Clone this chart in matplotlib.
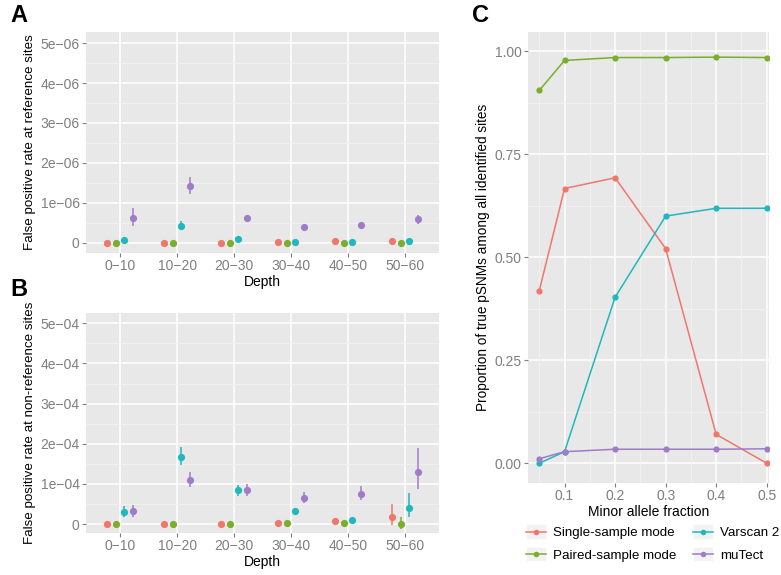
import numpy as np
import matplotlib
matplotlib.use('Agg')
import matplotlib.pyplot as plt
from matplotlib.lines import Line2D
from matplotlib.patches import Rectangle
from matplotlib.legend_handler import HandlerLine2D

plt.rcParams['font.family'] = ['Liberation Sans', 'DejaVu Sans']

# categories / series
depth_labels = ['0\u221210', '10\u221220', '20\u221230', '30\u221240', '40\u221250', '50\u221260']
callers = ['Single-sample mode', 'Paired-sample mode', 'Varscan 2', 'muTect']
colors = ['#F0776C', '#7AAE2B', '#1DB9BC', '#A07CC8']

# A: false positive rate at reference sites (x 1e-6)
ref_val = [[0.0, 0.0, 0.0, 0.02, 0.04, 0.03],
           [0.0, 0.0, 0.0, 0.0, 0.0, 0.0],
           [0.07, 0.42, 0.10, 0.01, 0.01, 0.05],
           [0.61, 1.42, 0.62, 0.40, 0.45, 0.58]]
ref_lo = [[0.0, 0.0, 0.0, 0.02, 0.04, 0.03],
          [0.0, 0.0, 0.0, 0.0, 0.0, 0.0],
          [0.02, 0.31, 0.08, 0.0, 0.0, 0.03],
          [0.42, 1.21, 0.58, 0.37, 0.42, 0.46]]
ref_hi = [[0.0, 0.0, 0.0, 0.02, 0.04, 0.03],
          [0.0, 0.0, 0.0, 0.0, 0.0, 0.0],
          [0.13, 0.54, 0.12, 0.02, 0.02, 0.07],
          [0.86, 1.64, 0.66, 0.43, 0.48, 0.70]]

# B: false positive rate at non-reference sites (x 1e-4)
nonref_val = [[0.0, 0.0, 0.0, 0.03, 0.07, 0.19],
              [0.0, 0.0, 0.01, 0.025, 0.02, 0.0],
              [0.315, 1.68, 0.84, 0.32, 0.10, 0.39],
              [0.33, 1.10, 0.84, 0.66, 0.75, 1.31]]
nonref_lo = [[0.0, 0.0, 0.0, 0.02, 0.05, -0.02],
             [0.0, 0.0, 0.01, 0.02, 0.015, -0.13],
             [0.17, 1.48, 0.70, 0.28, 0.08, 0.17],
             [0.19, 0.92, 0.69, 0.52, 0.59, 0.87]]
nonref_hi = [[0.0, 0.0, 0.0, 0.04, 0.09, 0.50],
             [0.0, 0.0, 0.01, 0.03, 0.025, 0.18],
             [0.46, 1.93, 0.98, 0.36, 0.12, 0.77],
             [0.48, 1.31, 1.00, 0.81, 0.94, 1.90]]

# C: proportion of true pSNMs
maf = [0.05, 0.1, 0.2, 0.3, 0.4, 0.5]
prop = [[0.419, 0.667, 0.693, 0.521, 0.070, 0.0],
        [0.905, 0.978, 0.985, 0.985, 0.986, 0.985],
        [0.0, 0.028, 0.403, 0.600, 0.619, 0.619],
        [0.011, 0.028, 0.034, 0.034, 0.034, 0.035]]

W, H = 781, 575
BG = '#E8E8E8'
TXT = '#7F7F7F'

fig = plt.figure(figsize=(W / 100, H / 100), dpi=100)


def px_axes(left, top, right, bottom):
    return fig.add_axes([left / W, 1 - bottom / H, (right - left) / W, (bottom - top) / H])


def gg_style(ax, size):
    ax.set_facecolor(BG)
    for s in ax.spines.values():
        s.set_visible(False)
    ax.tick_params(colors=TXT, labelcolor=TXT, labelsize=size, length=3, width=0.8, pad=1.5)
    ax.set_axisbelow(True)


def dot_panel(ax, vals, lo, hi, scale, yticks, ylabels, ylim, ylabel):
    gg_style(ax, 10)
    x = np.arange(1, len(depth_labels) + 1)
    offs = [-0.225, -0.075, 0.075, 0.225]
    for v, l, h, c, o in zip(vals, lo, hi, colors, offs):
        ax.vlines(x + o, np.array(l) * scale, np.array(h) * scale, color=c, lw=1.1, zorder=3)
        ax.plot(x + o, np.array(v) * scale, 'o', color=c, ms=5.2, mew=0, zorder=4)
    ax.set_xlim(0.4, 6.6)
    ax.set_ylim(ylim[0] * scale, ylim[1] * scale)
    ax.set_xticks(x)
    ax.set_xticklabels(depth_labels)
    yt = np.array(yticks) * scale
    ax.set_yticks(yt)
    ax.set_yticklabels(ylabels)
    minors = (yt[:-1] + yt[1:]) / 2
    for m in minors:
        ax.axhline(m, color='#F2F2F2', lw=0.6, zorder=1)
    ax.grid(True, which='major', color='white', lw=1.1, zorder=2)
    ax.set_xlabel('Depth', fontsize=10, labelpad=1)
    ax.set_ylabel(ylabel, fontsize=9.6, labelpad=3)


axA = px_axes(86, 32, 439, 253)
dot_panel(axA, ref_val, ref_lo, ref_hi, 1e-6,
          [0, 1, 2, 3, 4, 5],
          ['0', '1e\u221206', '2e\u221206', '3e\u221206', '4e\u221206', '5e\u221206'],
          (-0.26, 5.28), 'False positive rate at reference sites')

axB = px_axes(86, 313, 439, 533)
dot_panel(axB, nonref_val, nonref_lo, nonref_hi, 1e-4,
          [0, 1, 2, 3, 4, 5],
          ['0', '1e\u221204', '2e\u221204', '3e\u221204', '4e\u221204', '5e\u221204'],
          (-0.22, 5.256), 'False positive rate at non-reference sites')

# panel C
axC = px_axes(528, 32, 769, 483)
gg_style(axC, 10)
for m in [0.05, 0.15, 0.25, 0.35, 0.45]:
    axC.axvline(m, color='#F2F2F2', lw=0.6, zorder=1)
for m in [0.125, 0.375, 0.625, 0.875]:
    axC.axhline(m, color='#F2F2F2', lw=0.6, zorder=1)
for vals, c in zip(prop, colors):
    axC.plot(maf, vals, '-', color=c, lw=1.1, zorder=3)
    axC.plot(maf, vals, 'o', color=c, ms=4.5, mew=0, zorder=4)
axC.set_xlim(0.0277, 0.5045)
axC.set_ylim(-0.048, 1.047)
axC.set_xticks([0.1, 0.2, 0.3, 0.4, 0.5])
axC.set_xticklabels(['0.1', '0.2', '0.3', '0.4', '0.5'])
axC.set_yticks([0, 0.25, 0.5, 0.75, 1.0])
axC.set_yticklabels(['0.00', '0.25', '0.50', '0.75', '1.00'])
axC.grid(True, which='major', color='white', lw=1.1, zorder=2)
axC.set_xlabel('Minor allele fraction', fontsize=10, labelpad=1)
axC.set_ylabel('Proportion of true pSNMs among all identified sites', fontsize=9.8, labelpad=3)


class KeyHandler(HandlerLine2D):
    def create_artists(self, legend, orig_handle, xdescent, ydescent, width, height, fontsize, trans):
        arts = super().create_artists(legend, orig_handle, xdescent, ydescent, width, height, fontsize, trans)
        box = Rectangle((-xdescent, -ydescent - 0.3 * height), width, height * 1.6,
                        facecolor='#F2F2F2', edgecolor='white', lw=0.5, transform=trans, zorder=0)
        return [box] + arts


handles = [Line2D([], [], color=c, lw=1.1, marker='o', ms=4, mew=0) for c in colors]
fig.legend(handles, callers, ncol=2, loc='upper left', bbox_to_anchor=(526 / W, 1 - 527 / H),
           frameon=False, fontsize=9.6, handlelength=1.5, handletextpad=0.5,
           columnspacing=1.3, labelspacing=0.75, borderpad=0, borderaxespad=0,
           handler_map={Line2D: KeyHandler()})

fig.text(10 / W, 1 - 15 / H, 'A', fontsize=17, fontweight='bold', va='center')
fig.text(10 / W, 1 - 289 / H, 'B', fontsize=17, fontweight='bold', va='center')
fig.text(472 / W, 1 - 15 / H, 'C', fontsize=17, fontweight='bold', va='center')

fig.savefig('out.png', dpi=100)
